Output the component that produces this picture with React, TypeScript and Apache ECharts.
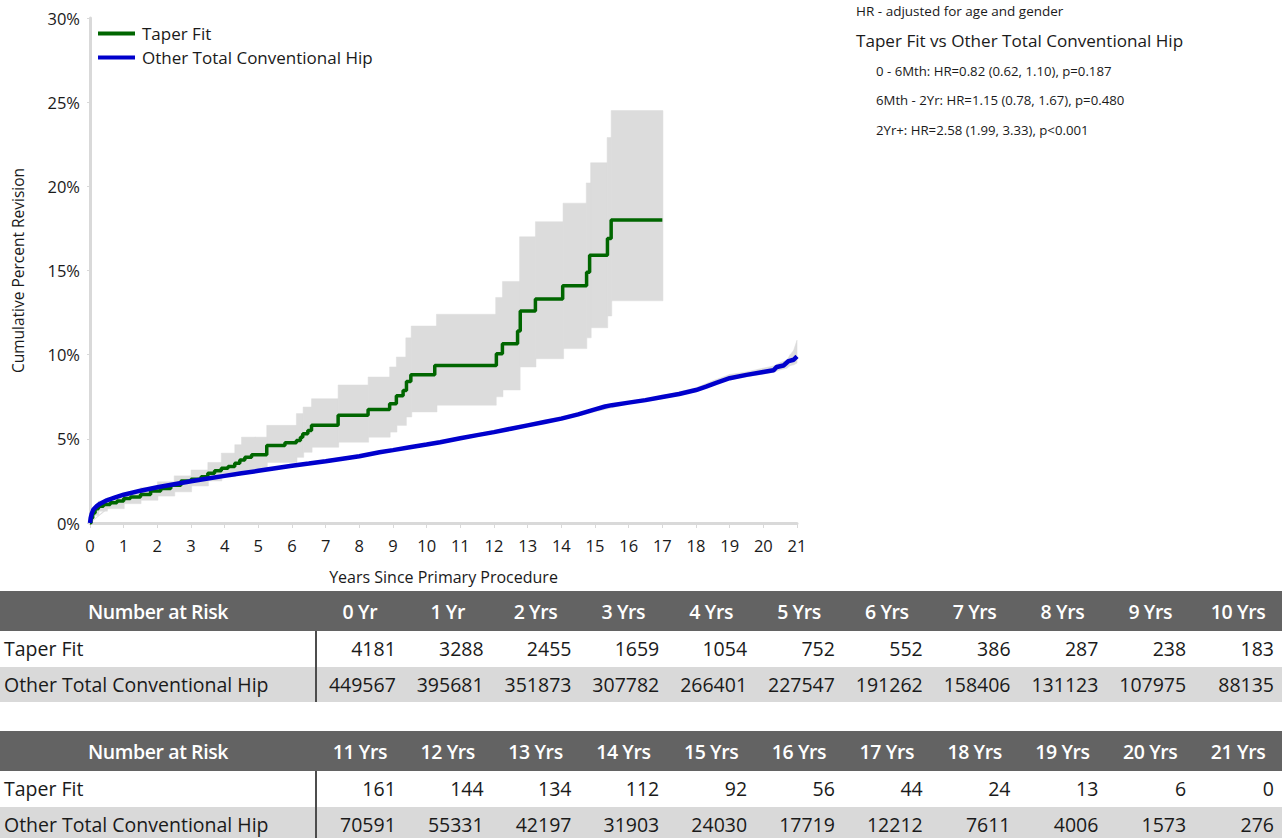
import React, { useEffect, useRef } from "react";
import * as echarts from "echarts";

const FONT = "'Open Sans', 'Noto Sans', sans-serif";

// Taper Fit cumulative percent revision (step curve)
const taperTimes = [0, 0.03, 0.08, 0.15, 0.25, 0.4, 0.6, 0.8, 1.0, 1.2, 1.5, 1.8, 2.1, 2.4, 2.7, 3.0, 3.3, 3.5, 3.7, 3.9, 4.1, 4.3, 4.45, 4.6, 4.8, 5.25, 5.79, 6.13, 6.25, 6.32, 6.47, 6.58, 7.37, 8.26, 8.9, 9.1, 9.3, 9.4, 9.53, 10.24, 12.07, 12.25, 12.7, 12.78, 13.23, 14.04, 14.75, 14.84, 15.37, 15.48, 17.0];
const taperValues = [0, 0.3, 0.6, 0.85, 1.0, 1.1, 1.2, 1.3, 1.45, 1.55, 1.7, 1.9, 2.05, 2.25, 2.5, 2.6, 2.75, 2.95, 3.1, 3.25, 3.35, 3.55, 3.75, 3.9, 4.05, 4.6, 4.77, 4.9, 5.1, 5.3, 5.5, 5.8, 6.4, 6.75, 7.08, 7.56, 7.87, 8.4, 8.8, 9.36, 10.06, 10.65, 11.4, 12.6, 13.3, 14.1, 14.9, 15.9, 16.9, 18.0, 18.0];

// Taper Fit 95% CI (step band)
const taperCITimes = [0, 0.05, 0.1, 0.25, 0.5, 1, 1.5, 2, 2.5, 3, 3.5, 3.9, 4.3, 4.5, 4.9, 5.25, 6.13, 6.33, 6.58, 7.37, 8.26, 8.9, 9.1, 9.38, 9.54, 10.29, 12.05, 12.25, 12.76, 13.23, 14.05, 14.74, 14.87, 15.36, 15.48, 17];
const taperUpper = [0, 0.55, 0.9, 1.3, 1.5, 1.8, 2.1, 2.45, 2.8, 3.15, 3.6, 4.15, 4.65, 5.1, 5.1, 5.8, 6.5, 6.89, 7.38, 8.2, 8.67, 9.27, 9.86, 11.0, 11.7, 12.4, 13.4, 14.35, 17.0, 17.9, 19.0, 20.2, 21.4, 22.9, 24.5, 24.5];
const taperLower = [0, 0.2, 0.45, 0.7, 0.85, 1.15, 1.35, 1.6, 1.85, 2.2, 2.5, 2.75, 2.95, 3.1, 3.2, 3.6, 3.9, 4.2, 4.5, 4.8, 5.1, 5.4, 5.8, 6.3, 6.6, 7.0, 7.5, 7.9, 9.27, 9.76, 10.36, 11.0, 11.6, 12.3, 13.2, 13.2];

// Other Total Conventional Hip
const otherTimes = [0, 0.02, 0.05, 0.1, 0.2, 0.3, 0.5, 0.75, 1, 1.5, 2, 2.5, 3, 3.5, 4, 4.5, 5, 5.5, 6, 6.5, 7, 7.5, 8, 8.6, 9, 9.5, 10, 10.4, 11, 11.5, 12, 12.5, 13, 13.5, 14, 14.5, 15, 15.3, 15.5, 16, 16.5, 17, 17.5, 18, 18.3, 18.6, 19, 19.5, 20, 20.3, 20.4, 20.6, 20.75, 20.9, 21];
const otherValues = [0, 0.3, 0.55, 0.8, 1.0, 1.15, 1.35, 1.52, 1.68, 1.92, 2.12, 2.3, 2.48, 2.64, 2.8, 2.95, 3.1, 3.25, 3.4, 3.53, 3.67, 3.82, 3.97, 4.2, 4.33, 4.5, 4.66, 4.8, 5.03, 5.22, 5.4, 5.6, 5.8, 6.0, 6.2, 6.45, 6.75, 6.92, 7.0, 7.15, 7.3, 7.48, 7.66, 7.9, 8.1, 8.32, 8.6, 8.8, 8.97, 9.07, 9.27, 9.36, 9.62, 9.7, 9.9];

// Other Total Conventional Hip 95% CI
const otherCITimes = [0, 1, 2, 4, 6, 8, 10, 12, 14, 16, 17, 18, 18.5, 19, 19.5, 20, 20.3, 20.5, 20.7, 20.8, 20.9, 21];
const otherLower = [0, 1.62, 2.05, 2.75, 3.35, 3.95, 4.6, 5.33, 6.13, 7.08, 7.38, 7.8, 8.2, 8.52, 8.68, 8.85, 8.95, 9.1, 9.2, 9.35, 9.4, 9.5];
const otherUpper = [0, 1.74, 2.19, 2.86, 3.46, 4.05, 4.74, 5.49, 6.32, 7.24, 7.56, 8.03, 8.45, 8.82, 8.97, 9.2, 9.32, 9.52, 9.68, 10.0, 10.25, 10.85];

// Number at risk
const yearLabels = ["0 Yr", "1 Yr", "2 Yrs", "3 Yrs", "4 Yrs", "5 Yrs", "6 Yrs", "7 Yrs", "8 Yrs", "9 Yrs", "10 Yrs", "11 Yrs", "12 Yrs", "13 Yrs", "14 Yrs", "15 Yrs", "16 Yrs", "17 Yrs", "18 Yrs", "19 Yrs", "20 Yrs", "21 Yrs"];
const taperAtRisk = [4181, 3288, 2455, 1659, 1054, 752, 552, 386, 287, 238, 183, 161, 144, 134, 112, 92, 56, 44, 24, 13, 6, 0];
const otherAtRisk = [449567, 395681, 351873, 307782, 266401, 227547, 191262, 158406, 131123, 107975, 88135, 70591, 55331, 42197, 31903, 24030, 17719, 12212, 7611, 4006, 1573, 276];

const hrHeader = "HR - adjusted for age and gender";
const hrTitle = "Taper Fit vs Other Total Conventional Hip";
const hrLines = [
  "0 - 6Mth: HR=0.82 (0.62, 1.10), p=0.187",
  "6Mth - 2Yr: HR=1.15 (0.78, 1.67), p=0.480",
  "2Yr+: HR=2.58 (1.99, 3.33), p<0.001",
];

const GREEN = "#006600";
const BLUE = "#0000cc";
const BAND = "#dcdcdc";

function zip(xs: number[], ys: number[]) {
  return xs.map((x, i) => [x, ys[i]]);
}

// band segments: [t, lower, upper, tNext, lowerNext, upperNext]
function bandData(ts: number[], lo: number[], up: number[]) {
  const out: number[][] = [];
  for (let i = 0; i < ts.length - 1; i++) {
    out.push([ts[i], lo[i], up[i], ts[i + 1], lo[i + 1], up[i + 1]]);
  }
  return out;
}

function stepBandRender(params: any, api: any) {
  const t0 = api.value(0);
  const lo = api.value(1);
  const up = api.value(2);
  const t1 = api.value(3);
  const a = api.coord([t0, up]);
  const b = api.coord([t1, lo]);
  return {
    type: "rect",
    shape: { x: a[0], y: a[1], width: b[0] - a[0] + 0.6, height: b[1] - a[1] },
    style: { fill: BAND, stroke: BAND, lineWidth: 0.5 },
    silent: true,
  };
}

function smoothBandRender(params: any, api: any) {
  const p1 = api.coord([api.value(0), api.value(1)]);
  const p2 = api.coord([api.value(3), api.value(4)]);
  const p3 = api.coord([api.value(3), api.value(5)]);
  const p4 = api.coord([api.value(0), api.value(2)]);
  return {
    type: "polygon",
    shape: { points: [p1, p2, p3, p4] },
    style: { fill: BAND, stroke: BAND, lineWidth: 0.6 },
    silent: true,
  };
}

function Chart() {
  const ref = useRef<HTMLDivElement>(null);
  useEffect(() => {
    if (!ref.current) return;
    const chart = echarts.init(ref.current, undefined, { renderer: "svg" });
    const graphic: any[] = [
      {
        type: "text",
        left: 856,
        top: 4,
        style: { text: hrHeader, fontSize: 13.5, fontFamily: FONT, fill: "#1a1a1a" },
      },
      {
        type: "text",
        left: 856,
        top: 32,
        style: { text: hrTitle, fontSize: 17.1, fontFamily: FONT, fill: "#1a1a1a" },
      },
      ...hrLines.map((t, i) => ({
        type: "text",
        left: 876,
        top: 64 + i * 29.5,
        style: { text: t, fontSize: 13.2, fontFamily: FONT, fill: "#1a1a1a" },
      })),
    ];
    const option: any = {
      animation: false,
      textStyle: { fontFamily: FONT },
      grid: { left: 90, right: 485, top: 18, bottom: 66 },
      legend: {
        orient: "vertical",
        left: 93,
        top: 20,
        icon: "rect",
        itemWidth: 37,
        itemHeight: 4,
        itemGap: 7,
        data: ["Taper Fit", "Other Total Conventional Hip"],
        textStyle: { fontSize: 17, color: "#1a1a1a", fontFamily: FONT, padding: [0, 0, 0, 2] },
      },
      xAxis: {
        type: "value",
        min: 0,
        max: 21,
        interval: 1,
        name: "Years Since Primary Procedure",
        nameLocation: "middle",
        nameGap: 46,
        nameTextStyle: { fontSize: 16, color: "#1a1a1a" },
        axisLine: { show: true, lineStyle: { color: "#d9d9d9", width: 3 } },
        axisTick: { show: true, length: 5, lineStyle: { color: "#d9d9d9" } },
        axisLabel: { fontSize: 16.5, color: "#1a1a1a", margin: 14 },
        splitLine: { show: false },
      },
      yAxis: {
        type: "value",
        min: 0,
        max: 30,
        interval: 5,
        name: "Cumulative Percent Revision",
        nameLocation: "middle",
        nameGap: 64,
        nameTextStyle: { fontSize: 15.5, color: "#1a1a1a" },
        axisLine: { show: true, lineStyle: { color: "#d9d9d9", width: 3 } },
        axisTick: { show: true, length: 3, lineStyle: { color: "#d9d9d9" } },
        axisLabel: { fontSize: 16.5, color: "#1a1a1a", margin: 10, formatter: "{value}%" },
        splitLine: { show: false },
      },
      graphic,
      series: [
        {
          name: "taperCI",
          type: "custom",
          silent: true,
          renderItem: stepBandRender,
          encode: { x: [0, 3], y: [1, 2] },
          data: bandData(taperCITimes, taperLower, taperUpper),
          z: 1,
        },
        {
          name: "otherCI",
          type: "custom",
          silent: true,
          renderItem: smoothBandRender,
          encode: { x: [0, 3], y: [1, 2, 4, 5] },
          data: bandData(otherCITimes, otherLower, otherUpper),
          z: 1,
        },
        {
          name: "Taper Fit",
          type: "line",
          step: "end",
          symbol: "none",
          color: GREEN,
          lineStyle: { color: GREEN, width: 3.5 },
          data: zip(taperTimes, taperValues),
          z: 3,
        },
        {
          name: "Other Total Conventional Hip",
          type: "line",
          symbol: "none",
          color: BLUE,
          lineStyle: { color: BLUE, width: 4.5 },
          data: zip(otherTimes, otherValues),
          z: 4,
        },
      ],
    };
    chart.setOption(option);
    return () => chart.dispose();
  }, []);
  return <div ref={ref} style={{ position: "absolute", left: 0, top: 0, width: 1282, height: 590 }} />;
}

const LABEL_W = 316;
const COL_W = (1282 - LABEL_W) / 11;

function RiskTable({ top, start }: { top: number; start: number }) {
  const idx = Array.from({ length: 11 }, (_, k) => start + k);
  const headerH = 40;
  const rowH = 35.5;
  const cellBase: React.CSSProperties = {
    position: "absolute",
    boxSizing: "border-box",
    display: "flex",
    alignItems: "center",
    whiteSpace: "nowrap",
  };
  const headStyle: React.CSSProperties = {
    color: "#fff",
    fontSize: 19.5,
    fontWeight: 600,
    letterSpacing: -0.4,
  };
  return (
    <div style={{ position: "absolute", left: 0, top, width: 1282, height: headerH + rowH * 2 }}>
      <div style={{ position: "absolute", left: 0, top: 0, width: 1282, height: headerH, background: "#636363" }} />
      <div style={{ position: "absolute", left: 0, top: headerH + rowH, width: 1282, height: rowH, background: "#d9d9d9" }} />
      <div
        style={{
          ...cellBase,
          ...headStyle,
          left: 0,
          top: 0,
          width: LABEL_W,
          height: headerH,
          justifyContent: "center",
        }}
      >
        Number at Risk
      </div>
      {idx.map((i, k) => (
        <div
          key={"h" + i}
          style={{
            ...cellBase,
            ...headStyle,
            left: LABEL_W + k * COL_W,
            top: 0,
            width: COL_W,
            height: headerH,
            justifyContent: "center",
          }}
        >
          {yearLabels[i]}
        </div>
      ))}
      {[
        { label: "Taper Fit", vals: taperAtRisk },
        { label: "Other Total Conventional Hip", vals: otherAtRisk },
      ].map((row, r) => (
        <React.Fragment key={row.label}>
          <div
            style={{
              ...cellBase,
              left: 0,
              top: headerH + r * rowH,
              width: LABEL_W,
              height: rowH,
              paddingLeft: 4,
              color: "#1a1a1a",
              fontSize: 19.5,
            }}
          >
            {row.label}
          </div>
          {idx.map((i, k) => (
            <div
              key={row.label + i}
              style={{
                ...cellBase,
                left: LABEL_W + k * COL_W,
                top: headerH + r * rowH,
                width: COL_W,
                height: rowH,
                justifyContent: "flex-end",
                paddingRight: 8,
                color: "#1a1a1a",
                fontSize: 19.5,
              }}
            >
              {row.vals[i]}
            </div>
          ))}
        </React.Fragment>
      ))}
      <div
        style={{
          position: "absolute",
          left: LABEL_W - 1,
          top: headerH,
          width: 2,
          height: rowH * 2,
          background: "#4d4d4d",
        }}
      />
    </div>
  );
}

export default function App() {
  return (
    <div
      style={{
        position: "absolute",
        left: 0,
        top: 0,
        width: 1282,
        height: 838,
        overflow: "hidden",
        background: "#fff",
        fontFamily: FONT,
      }}
    >
      <Chart />
      <RiskTable top={591} start={0} />
      <RiskTable top={731} start={11} />
    </div>
  );
}
